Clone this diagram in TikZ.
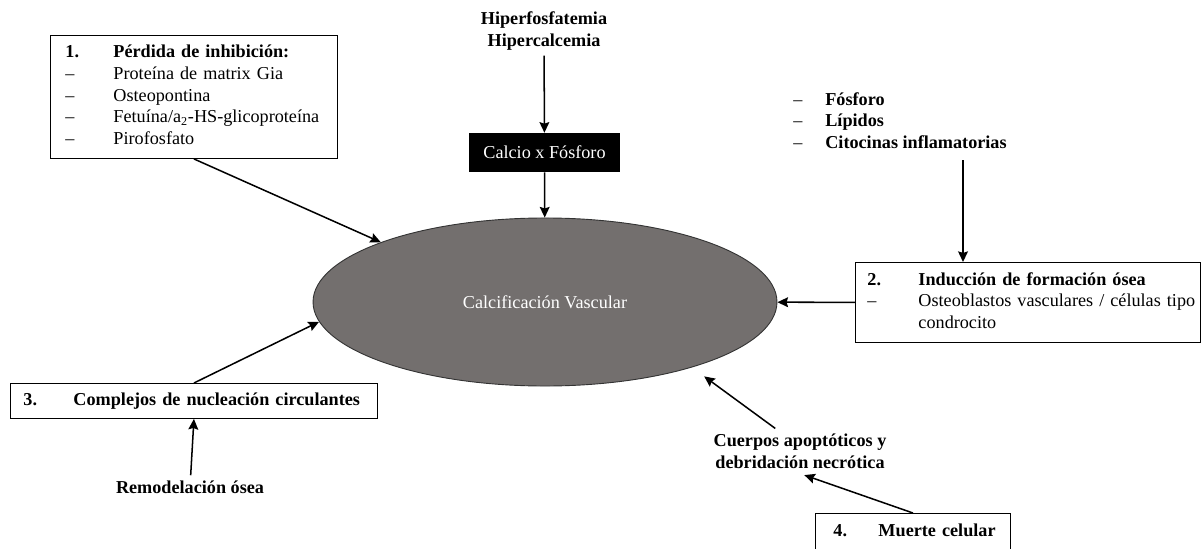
\documentclass[tikz,border=0pt]{standalone}
\usepackage{fontspec}
\setmainfont{Liberation Serif}
\usepackage{xcolor}
\usetikzlibrary{arrows.meta}
\usetikzlibrary{shapes.geometric}
\usetikzlibrary{positioning, calc}

\definecolor{calcgray}{RGB}{115,111,110}

\tikzset{
  txt/.style={font=\fontsize{12}{14.3}\selectfont},
  numbox/.style={draw=black, line width=0.6pt, anchor=north west, align=left, inner ysep=0pt, txt},
}

\begin{document}
\begin{tikzpicture}[x=0.66pt, y=-0.66pt]
\useasboundingbox (0,0) rectangle (1201,548);

\begin{scope}[every node/.style={numbox}]
    \node[minimum height=81.2pt, text width=169.6pt, inner xsep=9.9pt] (perdida) at (50,35) {%
      \begin{tabular}{@{}p{31.7pt}@{}l@{}}
      \textbf{1.} & \textbf{Pérdida de inhibición:}\\
      – & Proteína de matrix Gia\\
      – & Osteopontina\\
      – & Fetuína/a\textsubscript{2}-HS-glicoproteína\\
      – & Pirofosfato
      \end{tabular}};
    \node[minimum height=52.8pt, text width=211.9pt, inner xsep=7.9pt] (induccion) at (855,262) {%
      \begin{tabular}{@{}p{33.7pt}@{}p{190pt}@{}}
      \textbf{2.} & \textbf{Inducción de formación ósea}\\
      – & Osteoblastos vasculares / células tipo\newline condrocito
      \end{tabular}};
    \node[minimum height=23.1pt, text width=225pt, inner xsep=8.6pt] (nucleacion) at (10,383) {%
      \begin{tabular}{@{}p{33pt}@{}l@{}}
      \textbf{3.} & \textbf{Complejos de nucleación circulantes}
      \end{tabular}};
    \node[minimum height=25.1pt, text width=104.9pt, inner xsep=11.9pt] (muerte) at (815,513) {%
      \begin{tabular}{@{}p{29.7pt}@{}l@{}}
      \textbf{4.} & \textbf{Muerte celular}
      \end{tabular}};
\end{scope}

\begin{scope}[every node/.style={txt, align=center, font=\fontsize{12}{14.3}\selectfont\bfseries}]
    \node (hiper) at (544,31) {Hiperfosfatemia\\Hipercalcemia};
    \node (factores) at (900,122.5) {%
      \begin{tabular}{@{}p{21.1pt}@{}l@{}}
      \mdseries – & Fósforo\\
      \mdseries – & Lípidos\\
      \mdseries – & Citocinas inflamatorias
      \end{tabular}};
    \node (remodelacion) at (190,487) {Remodelación ósea};
    \node (cuerpos) at (800,451) {Cuerpos apoptóticos y\\debridación necrótica};
\end{scope}

\node[fill=black, text=white, minimum width=99.7pt, minimum height=25.7pt, inner sep=0pt, txt] (calcio) at (544.5,152.5) {Calcio x Fósforo};
\node[ellipse, draw=black!80, fill=calcgray, line width=0.6pt, text=white, minimum width=306.2pt, minimum height=110.9pt, inner sep=0pt, txt] (calcif) at (545,302) {Calcificación Vascular};

\coordinate (x2) at (963,0);

\begin{scope}[>={Stealth[black, length=7pt, width=6.5pt, inset=1pt]},
              every edge/.style={draw=black, line width=1pt}]
    \path [->] (perdida.south) edge (calcif.160);
    \path [->] (hiper) edge (calcio);
    \path [->] (calcio) edge (calcif);
    \path [->] (factores.south -| x2) edge (induccion.north -| x2);
    \path [->] (induccion) edge (calcif);
    \path [->] (nucleacion.north) edge (calcif.185);
    \path [->] (remodelacion) edge (nucleacion.south);
    \path [->] ($(cuerpos.north west)!0.73!(cuerpos.north)$) edge[shorten >=10pt] (calcif.336);
    \path [->] (muerte.north) edge[shorten >=3pt] (cuerpos.south);
\end{scope}
\end{tikzpicture}
\end{document}
